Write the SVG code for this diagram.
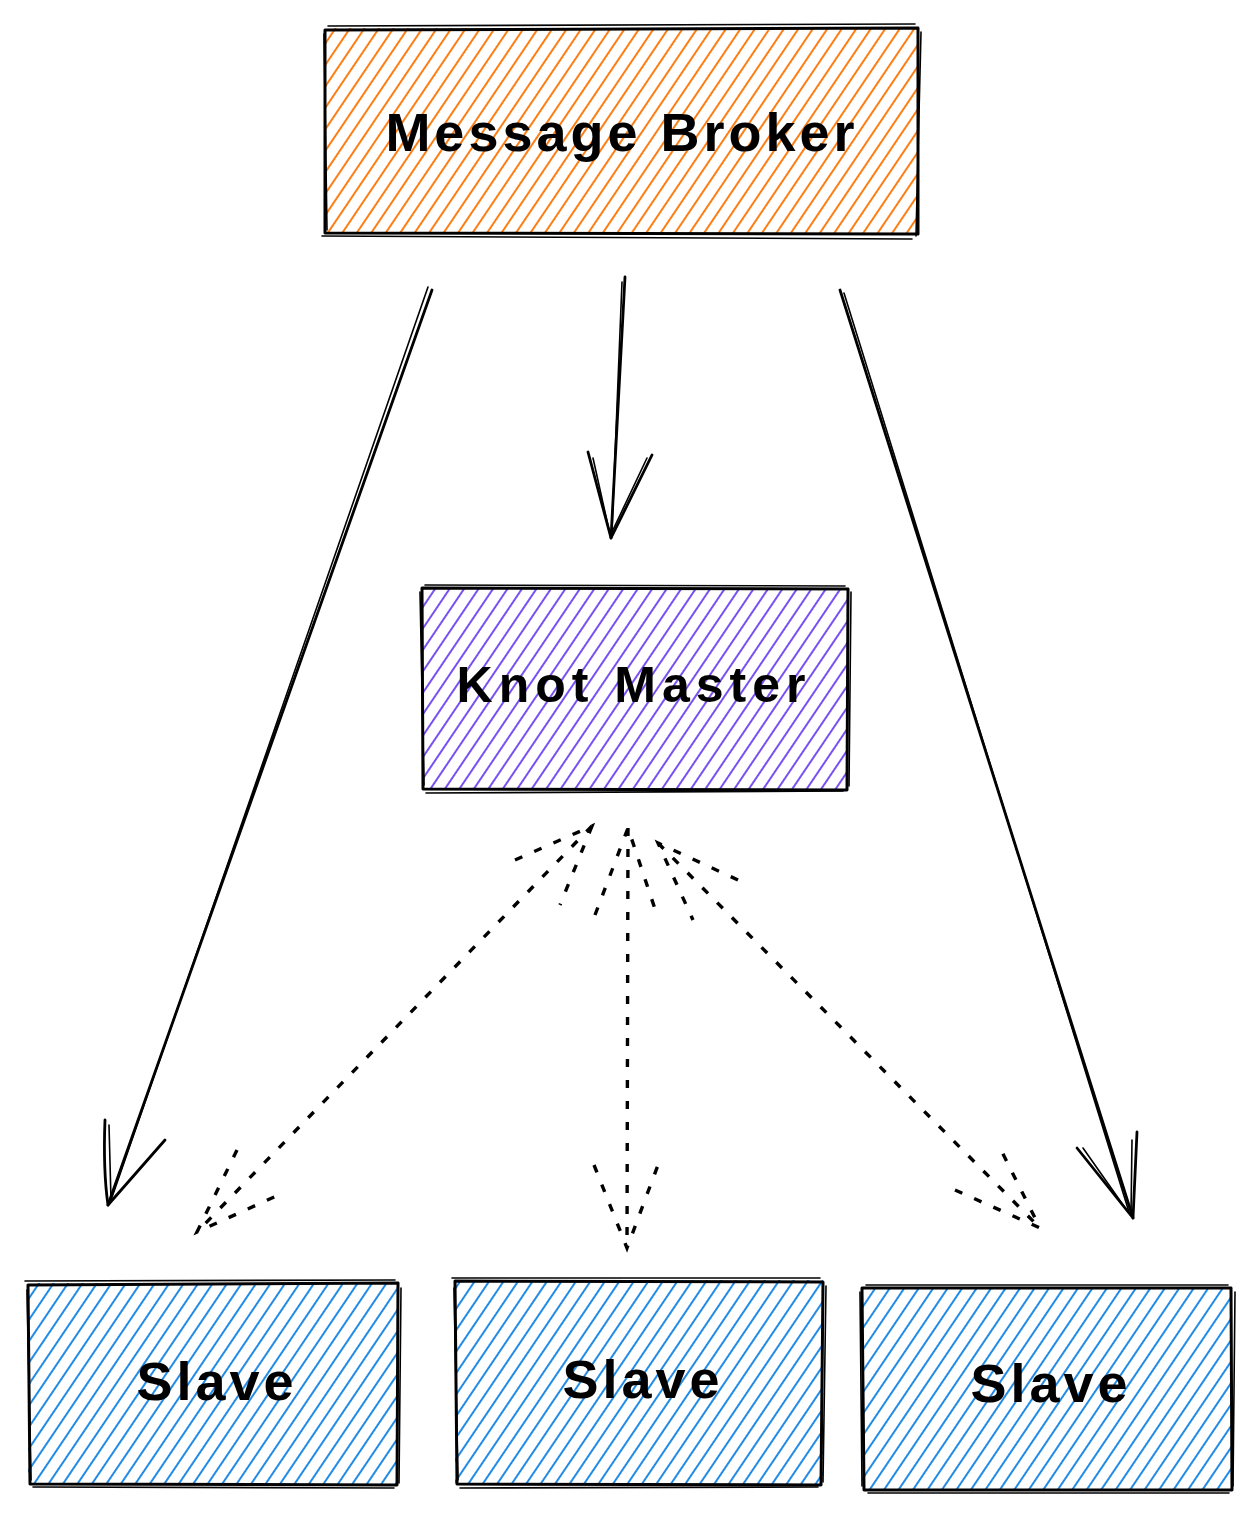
<svg xmlns="http://www.w3.org/2000/svg" width="1260" height="1519" viewBox="0 0 1260 1519">
<defs>
<pattern id="hOrange" width="12" height="12" patternUnits="userSpaceOnUse" patternTransform="rotate(-56)">
<line x1="0" y1="6" x2="12" y2="6" stroke="#fd7e14" stroke-width="2"/>
</pattern>
<pattern id="hPurple" width="12" height="12" patternUnits="userSpaceOnUse" patternTransform="rotate(-56)">
<line x1="0" y1="6" x2="12" y2="6" stroke="#7950f2" stroke-width="2"/>
</pattern>
<pattern id="hBlue" width="12" height="12" patternUnits="userSpaceOnUse" patternTransform="rotate(-56)">
<line x1="0" y1="6" x2="12" y2="6" stroke="#228be6" stroke-width="2"/>
</pattern>
</defs>
<style>
.frame{fill:none;stroke:#000;stroke-width:3;stroke-linejoin:round;stroke-linecap:round}
.frame2{fill:none;stroke:#000;stroke-width:1.6;stroke-linecap:round}
.lbl{font-family:"Comic Sans MS","Liberation Sans",sans-serif;fill:#000;text-anchor:middle;dominant-baseline:middle;font-weight:bold}
.solid{fill:none;stroke:#000;stroke-width:2.8;stroke-linecap:round;stroke-linejoin:round}
.thin{fill:none;stroke:#000;stroke-width:1.6;stroke-linecap:round}
.dash{fill:none;stroke:#000;stroke-width:3.4;stroke-dasharray:8 13}
</style>
<rect width="1260" height="1519" fill="#fff"/>

<g id="message-broker">
<rect x="325" y="28" width="593" height="206" fill="url(#hOrange)"/>
<path class="frame" d="M325 30 L918 28 L918 234 L325 233 Z"/>
<path class="frame2" d="M328 26 L915 24 M921 32 L916 236 M322 236 L912 239 M324 34 L327 230"/>
<text class="lbl" x="622" y="137" font-size="54" letter-spacing="4">Message Broker</text>
</g>

<g id="knot-master">
<rect x="422" y="588" width="426" height="202" fill="url(#hPurple)"/>
<path class="frame" d="M422 588 L848 589 L847 790 L423 789 Z"/>
<path class="frame2" d="M425 585 L845 586 M851 592 L849 786 M426 793 L843 791 M420 592 L424 785"/>
<text class="lbl" x="634" y="689" font-size="50" letter-spacing="6">Knot Master</text>
</g>

<g id="slave-1">
<rect x="28" y="1283" width="370" height="202" fill="url(#hBlue)"/>
<path class="frame" d="M28 1285 L398 1283 L397 1485 L30 1484 Z"/>
<path class="frame2" d="M25 1281 L395 1280 M401 1288 L399 1483 M33 1487 L394 1488 M27 1290 L31 1480"/>
<text class="lbl" x="217" y="1386" font-size="54" letter-spacing="4">Slave</text>
</g>

<g id="slave-2">
<rect x="455" y="1280" width="368" height="205" fill="url(#hBlue)"/>
<path class="frame" d="M455 1281 L823 1282 L821 1485 L457 1484 Z"/>
<path class="frame2" d="M452 1278 L820 1278 M826 1286 L823 1482 M460 1488 L818 1487 M454 1288 L458 1480"/>
<text class="lbl" x="643" y="1384" font-size="54" letter-spacing="4">Slave</text>
</g>

<g id="slave-3">
<rect x="862" y="1287" width="370" height="203" fill="url(#hBlue)"/>
<path class="frame" d="M862 1288 L1231 1288 L1232 1490 L864 1490 Z"/>
<path class="frame2" d="M866 1285 L1228 1285 M1235 1292 L1233 1486 M868 1493 L1229 1493 M860 1292 L862 1486"/>
<text class="lbl" x="1051" y="1388" font-size="54" letter-spacing="4">Slave</text>
</g>

<g id="connectors">
<!-- Message Broker -> Slave 1 -->
<path class="solid" d="M432 290 L108 1205"/>
<path class="thin" d="M428 287 L110 1203"/>
<path class="solid" d="M105 1120 Q103 1170 108 1205 L165 1140"/>
<path class="thin" d="M109 1125 L111 1200"/>
<!-- Message Broker -> Knot Master -->
<path class="solid" d="M625 277 L611 538"/>
<path class="thin" d="M622 282 L612 530"/>
<path class="solid" d="M588 452 L611 538 L652 455"/>
<path class="thin" d="M593 458 L609 530 M647 458 L612 532"/>
<!-- Message Broker -> Slave 3 -->
<path class="solid" d="M840 290 L1133 1218"/>
<path class="thin" d="M844 293 L1129 1212"/>
<path class="solid" d="M1077 1148 L1133 1218 L1137 1132"/>
<path class="thin" d="M1083 1148 L1128 1212 M1132 1140 L1131 1215"/>
<!-- Knot Master <-> Slave 1 (dashed, both ends) -->
<path class="dash" d="M592 826 L197 1232"/>
<path class="dash" d="M515 860 L592 826 L560 905"/>
<path class="dash" d="M237 1150 L197 1232 L283 1193"/>
<!-- Knot Master <-> Slave 2 -->
<path class="dash" d="M628 828 L627 1248"/>
<path class="dash" d="M595 915 L628 828 L657 915"/>
<path class="dash" d="M594 1165 L627 1248 L658 1165"/>
<!-- Knot Master <-> Slave 3 -->
<path class="dash" d="M658 843 L1040 1228"/>
<path class="dash" d="M738 880 L658 843 L693 920"/>
<path class="dash" d="M955 1190 L1040 1228 L1000 1148"/>
</g>
</svg>
